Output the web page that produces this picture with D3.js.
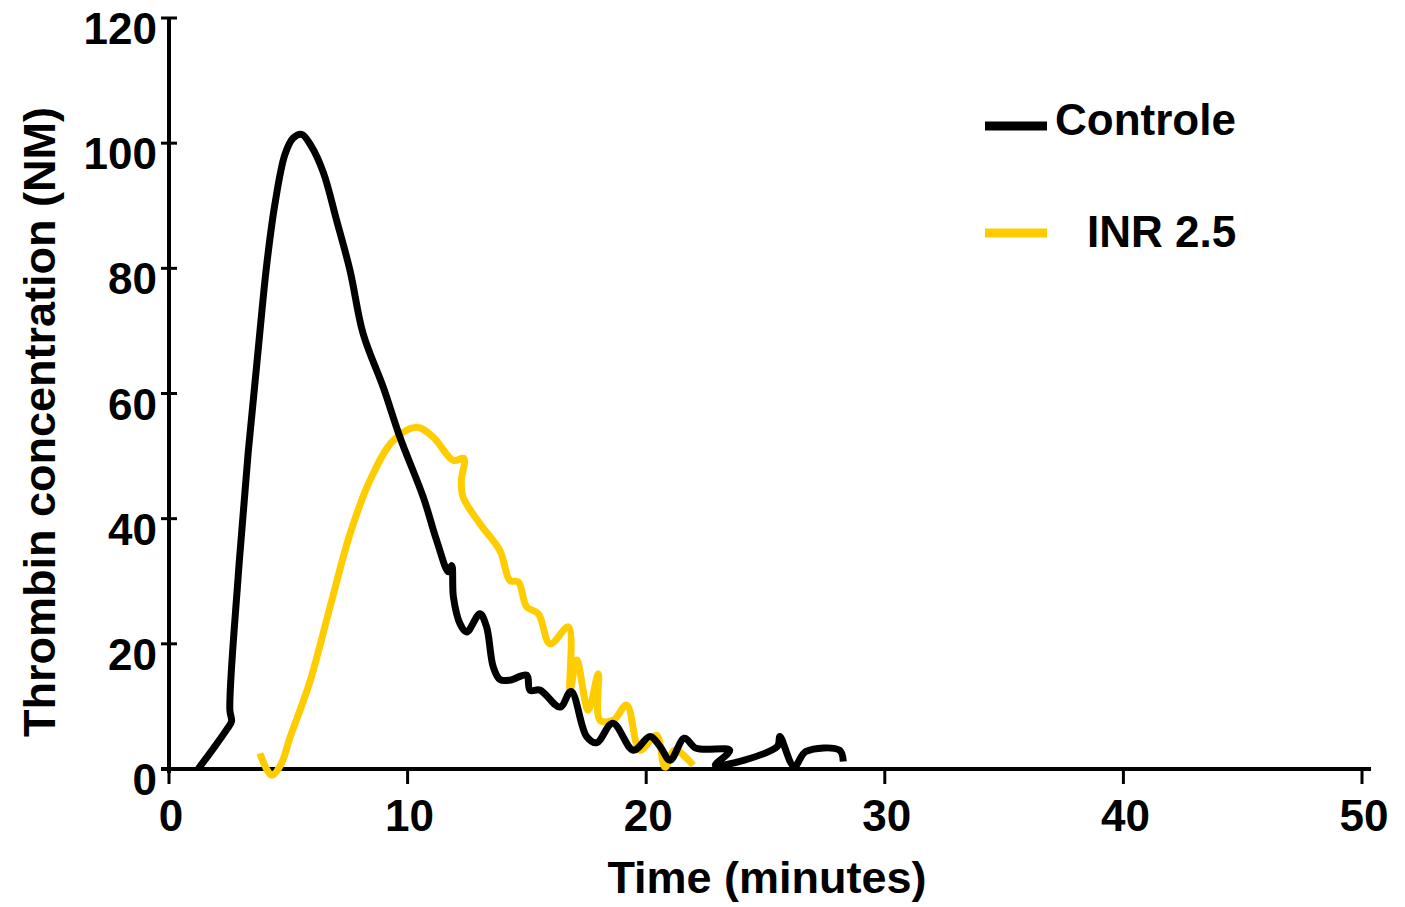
<!DOCTYPE html>
<html>
<head>
<meta charset="utf-8">
<script src="https://cdn.jsdelivr.net/npm/d3@7.9.0/dist/d3.min.js"></script>
<style>
  body { margin: 0; background: #fff; }
  svg text { font-family: "Liberation Sans", Arial, sans-serif; font-weight: bold; fill: #000; }
</style>
</head>
<body>
<svg id="chart" width="1405" height="907"></svg>
<script>
// Controle curve (time in minutes, thrombin nM)
const controleTime = [1.22, 1.9, 2.45, 2.62, 2.55, 2.9, 3.32, 3.74, 4.09, 4.44, 4.86, 5.2, 5.56, 5.95, 6.47, 7.03, 7.59, 8.14, 8.98, 9.68, 10.66, 11.22, 11.71, 11.85, 11.92, 12.2, 12.48, 13.03, 13.31, 13.59, 13.87, 14.29, 14.99, 15.13, 15.55, 16.39, 16.85, 17.5, 17.92, 18.6, 19.46, 20.16, 20.58, 21.0, 21.6, 22.1, 23.5, 22.9, 25.5, 25.6, 26.2, 26.7, 28.1, 28.26];
const controleValue = [0, 3.5, 6.5, 7.6, 9.5, 30.8, 50.6, 67.1, 80.4, 90.3, 98.2, 100.8, 101.4, 99.6, 95.3, 87.6, 79.6, 69.5, 61, 53, 43.4, 36.5, 31.5, 32.5, 27.5, 23.2, 21.9, 24.8, 22.7, 16.3, 14.3, 14.2, 15, 12.6, 12.6, 9.9, 12.4, 5.2, 4.2, 7.3, 3.0, 5.2, 3.6, 1.4, 4.9, 3.3, 3.0, 0.6, 3.6, 5.2, 0.4, 2.8, 3.0, 1.2];

// INR 2.5 curve
const inrTime = [3.81, 4.3, 4.7, 5.07, 5.91, 6.75, 7.59, 8.42, 9.4, 10.38, 11.08, 11.92, 12.36, 12.25, 12.33, 13.03, 13.87, 14.29, 14.64, 14.99, 15.48, 15.97, 16.74, 16.81, 17.09, 17.57, 17.99, 18.06, 18.62, 19.18, 19.74, 20.43, 20.79, 21.2, 21.97];
const inrValue = [2.5, -1, 0.8, 5.0, 14.0, 25.9, 37.6, 46.1, 52.5, 54.6, 53, 49.3, 49.6, 46, 43.4, 39.2, 34.9, 30.1, 29.9, 25.9, 24.8, 20.0, 22.7, 12.6, 17.4, 9.4, 15.2, 7.8, 7.8, 10.2, 3.0, 5.4, 0.3, 3.0, 0.6];

const xTicks = [0, 10, 20, 30, 40, 50];
const yTicks = [0, 20, 40, 60, 80, 100, 120];

const seriesNames = ['Controle', 'INR 2.5'];
const seriesColors = ['#000000', '#ffcc00'];

const svg = d3.select('#chart');

const x = d3.scaleLinear().domain([0, 50]).range([169, 1362]);
const y = d3.scaleLinear().domain([0, 120]).range([769, 18]);

// y axis
const yAxis = svg.append('g');
yAxis.append('line')
  .attr('x1', x(0)).attr('x2', x(0))
  .attr('y1', y(120)).attr('y2', y(0) + 4)
  .attr('stroke', '#000').attr('stroke-width', 4);
yTicks.forEach((t) => {
  yAxis.append('line')
    .attr('x1', x(0) - 8).attr('x2', x(0) + 8)
    .attr('y1', y(t)).attr('y2', y(t))
    .attr('stroke', '#000').attr('stroke-width', 3);
  yAxis.append('text')
    .attr('x', 157).attr('y', y(t) + 26)
    .attr('text-anchor', 'end')
    .attr('font-size', 44)
    .text(t);
});

// x axis
const xAxis = svg.append('g');
xAxis.append('line')
  .attr('x1', x(0) - 8).attr('x2', 1371)
  .attr('y1', y(0)).attr('y2', y(0))
  .attr('stroke', '#000').attr('stroke-width', 4);
xTicks.forEach((t) => {
  xAxis.append('line')
    .attr('x1', x(t)).attr('x2', x(t))
    .attr('y1', y(0)).attr('y2', y(0) + 15)
    .attr('stroke', '#000').attr('stroke-width', 3);
  xAxis.append('text')
    .attr('x', x(t) + 2).attr('y', 831)
    .attr('text-anchor', 'middle')
    .attr('font-size', 44)
    .text(t);
});

// axis titles
svg.append('text')
  .attr('x', 767).attr('y', 893)
  .attr('text-anchor', 'middle')
  .attr('font-size', 45)
  .text('Time (minutes)');

svg.append('text')
  .attr('transform', 'translate(55,422) rotate(-90)')
  .attr('text-anchor', 'middle')
  .attr('font-size', 45)
  .text('Thrombin concentration (NM)');

// curves
const line = d3.line()
  .x((d) => x(d[0]))
  .y((d) => y(d[1]))
  .curve(d3.curveCatmullRom.alpha(0.5));

const inrPts = d3.zip(inrTime, inrValue);
const ctrlPts = d3.zip(controleTime, controleValue);

svg.append('path')
  .attr('d', line(inrPts))
  .attr('fill', 'none')
  .attr('stroke', seriesColors[1])
  .attr('stroke-width', 7)
  .attr('stroke-linejoin', 'round');

svg.append('path')
  .attr('d', line(ctrlPts))
  .attr('fill', 'none')
  .attr('stroke', seriesColors[0])
  .attr('stroke-width', 7)
  .attr('stroke-linejoin', 'round');

// legend
const legendY = [126, 233];
const legendTextX = [1055, 1087];
seriesNames.forEach((name, i) => {
  svg.append('line')
    .attr('x1', 985).attr('x2', 1047)
    .attr('y1', legendY[i]).attr('y2', legendY[i])
    .attr('stroke', seriesColors[i]).attr('stroke-width', 9);
  svg.append('text')
    .attr('x', legendTextX[i]).attr('y', legendY[i] + (i === 0 ? 9 : 14))
    .attr('font-size', 44)
    .text(name);
});
</script>
</body>
</html>
